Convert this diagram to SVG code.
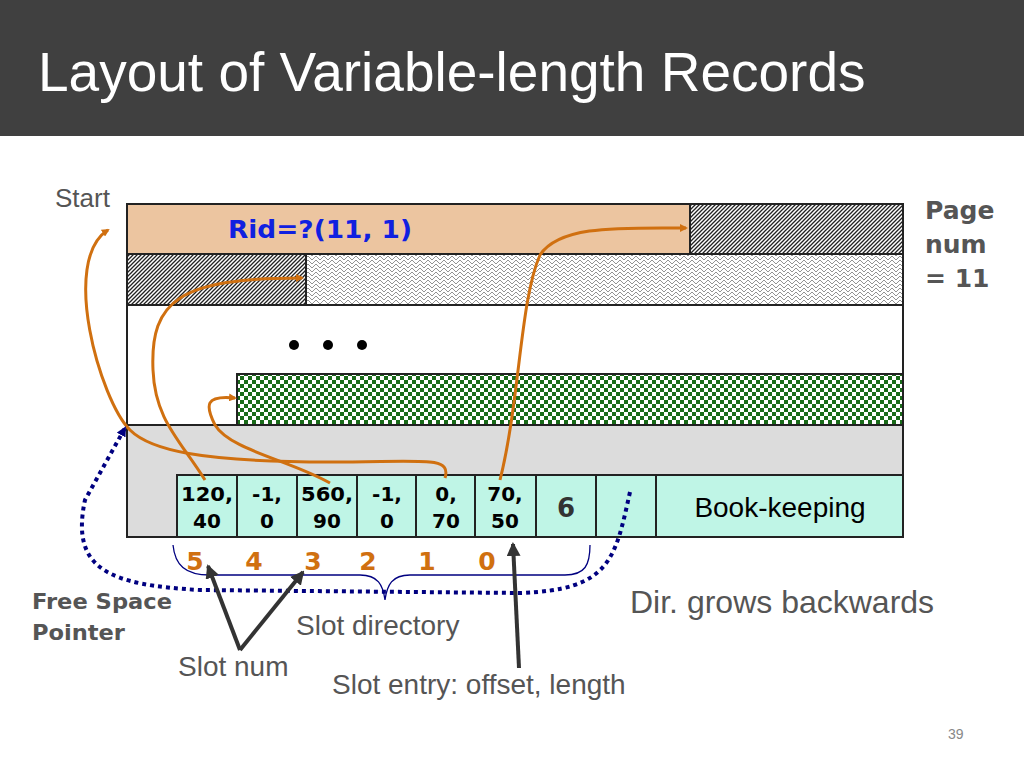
<svg xmlns="http://www.w3.org/2000/svg" width="1024" height="768" viewBox="0 0 1024 768">
<defs>
<pattern id="dk" width="4" height="4" patternUnits="userSpaceOnUse"><rect width="4" height="4" fill="#fff"/><path d="M-1,5 L5,-1 M3,5 L5,3 M-1,1 L1,-1" stroke="#222" stroke-width="1.3"/></pattern>
<pattern id="lt" width="8" height="8" patternUnits="userSpaceOnUse"><rect width="8" height="8" fill="#fff"/><path d="M0,4 L4,0 L8,4 M4,0 L4,-1 M0,8 L4,4 L8,8" stroke="#777" stroke-width="0.8" fill="none"/></pattern>
<pattern id="ck" width="8" height="8" patternUnits="userSpaceOnUse"><rect width="8" height="8" fill="#fff"/><rect width="4" height="4" fill="#1a6b1a"/><rect x="4" y="4" width="4" height="4" fill="#1a6b1a"/></pattern>
<marker id="ao" markerWidth="8" markerHeight="8" refX="6" refY="4" orient="auto" markerUnits="userSpaceOnUse"><path d="M0,0 L8,4 L0,8z" fill="#d07010"/></marker>
<marker id="ab" markerWidth="14" markerHeight="14" refX="12" refY="7" orient="auto" markerUnits="userSpaceOnUse"><path d="M0,0 L14,7 L0,14z" fill="#333"/></marker>
<marker id="au" markerWidth="10" markerHeight="10" refX="8" refY="5" orient="auto" markerUnits="userSpaceOnUse"><path d="M0,0 L10,5 L0,10z" fill="#000080"/></marker>
</defs>
<style>
.t{font-family:"Liberation Sans",Arial,sans-serif}
.v{font-family:"DejaVu Sans",Verdana,sans-serif;font-weight:bold}
.c{fill:#bff5e6;stroke:#222;stroke-width:2}
.o{fill:none;stroke:#d07010;stroke-width:3}
</style>
<rect width="1024" height="768" fill="#fff"/>
<rect width="1024" height="136" fill="#404040"/>
<text class="t" x="38" y="91" font-size="55" fill="#fff">Layout of Variable-length Records</text>
<text class="t" x="55" y="207" font-size="26" fill="#555">Start</text>
<g id="page" stroke="#222" stroke-width="2">
<rect x="127" y="204" width="776" height="333" fill="#fff"/>
<rect x="127" y="204" width="563" height="50" fill="#ecc5a0"/>
<rect x="690" y="204" width="213" height="50" fill="url(#dk)"/>
<rect x="127" y="254" width="179" height="51" fill="url(#dk)"/>
<rect x="306" y="254" width="597" height="51" fill="url(#lt)"/>
<rect x="237" y="374" width="666" height="51" fill="url(#ck)"/>
<rect x="127" y="425" width="776" height="112" fill="#dcdcdc"/>
</g>
<text class="v" x="228" y="238" font-size="25" fill="#1020e0" textLength="184" lengthAdjust="spacingAndGlyphs">Rid=?(11, 1)</text>
<g fill="#000"><circle cx="294" cy="345" r="5"/><circle cx="328" cy="345" r="5"/><circle cx="362" cy="345" r="5"/></g>
<g id="slots" class="v" font-size="20" text-anchor="middle">
<rect class="c" x="177" y="475" width="60" height="62"/><rect class="c" x="237" y="475" width="60" height="62"/><rect class="c" x="297" y="475" width="60" height="62"/><rect class="c" x="357" y="475" width="59" height="62"/><rect class="c" x="416" y="475" width="59" height="62"/><rect class="c" x="475" y="475" width="61" height="62"/><rect class="c" x="536" y="475" width="60" height="62"/><rect class="c" x="596" y="475" width="60" height="62"/><rect class="c" x="656" y="475" width="247" height="62"/>
<text x="207" y="501" textLength="52" lengthAdjust="spacingAndGlyphs">120,</text><text x="207" y="528">40</text>
<text x="267" y="501">-1,</text><text x="267" y="528">0</text>
<text x="327" y="501" textLength="52" lengthAdjust="spacingAndGlyphs">560,</text><text x="327" y="528">90</text>
<text x="387" y="501">-1,</text><text x="387" y="528">0</text>
<text x="446" y="501">0,</text><text x="446" y="528">70</text>
<text x="505" y="501">70,</text><text x="505" y="528">50</text>
<text x="566" y="517" font-size="26" fill="#333">6</text>
<text class="t" x="780" y="517" font-size="28" font-weight="normal">Book-keeping</text>
</g>
<g id="connectors">
<path class="o" d="M445,478 C452,455 420,462 330,462 C200,462 150,450 130,430 C100,400 60,260 108,230" marker-end="url(#ao)"/>
<path class="o" d="M205,480 C180,440 155,420 153,370 C150,300 180,278 302,278" marker-end="url(#ao)"/>
<path class="o" d="M330,483 C290,460 230,450 215,425 C205,405 205,395 235,398" marker-end="url(#ao)"/>
<path class="o" d="M500,480 C520,400 520,300 540,255 C560,225 620,228 686,228" marker-end="url(#ao)"/>
<path d="M630,492 C615,560 610,590 520,593 L200,590 C110,585 70,570 85,500 L125,428" fill="none" stroke="#000080" stroke-width="4" stroke-dasharray="4,4" marker-end="url(#au)"/>
<path d="M173,545 C175,565 185,575 210,575 L360,575 C378,575 383,585 385,600 C387,585 392,575 410,575 L565,575 C585,575 590,565 590,545" fill="none" stroke="#000080" stroke-width="1.3"/>
<path d="M240,650 L208,566" stroke="#333" stroke-width="4" marker-end="url(#ab)"/>
<path d="M240,650 L303,572" stroke="#333" stroke-width="4" marker-end="url(#ab)"/>
<path d="M519,668 L513,544" stroke="#333" stroke-width="4" marker-end="url(#ab)"/>
</g>
<g class="v" font-size="25" fill="#d07010" text-anchor="middle">
<text x="195" y="570">5</text><text x="254" y="570">4</text><text x="313" y="570">3</text><text x="368" y="570">2</text><text x="427" y="570">1</text><text x="487" y="570">0</text>
</g>
<g class="v" font-size="22" fill="#555"><text x="32" y="609" textLength="140" lengthAdjust="spacingAndGlyphs">Free Space</text><text x="32" y="640" textLength="93" lengthAdjust="spacingAndGlyphs">Pointer</text></g>
<g class="v" font-size="25" fill="#555"><text x="925" y="219">Page</text><text x="925" y="253">num</text><text x="925" y="287">= 11</text></g>
<g class="t" fill="#555">
<text x="296" y="635" font-size="28">Slot directory</text>
<text x="178" y="676" font-size="28">Slot num</text>
<text x="332" y="694" font-size="28">Slot entry: offset, length</text>
<text x="630" y="613" font-size="32">Dir. grows backwards</text>
<text x="948" y="739" font-size="14" fill="#888">39</text>
</g>
</svg>
